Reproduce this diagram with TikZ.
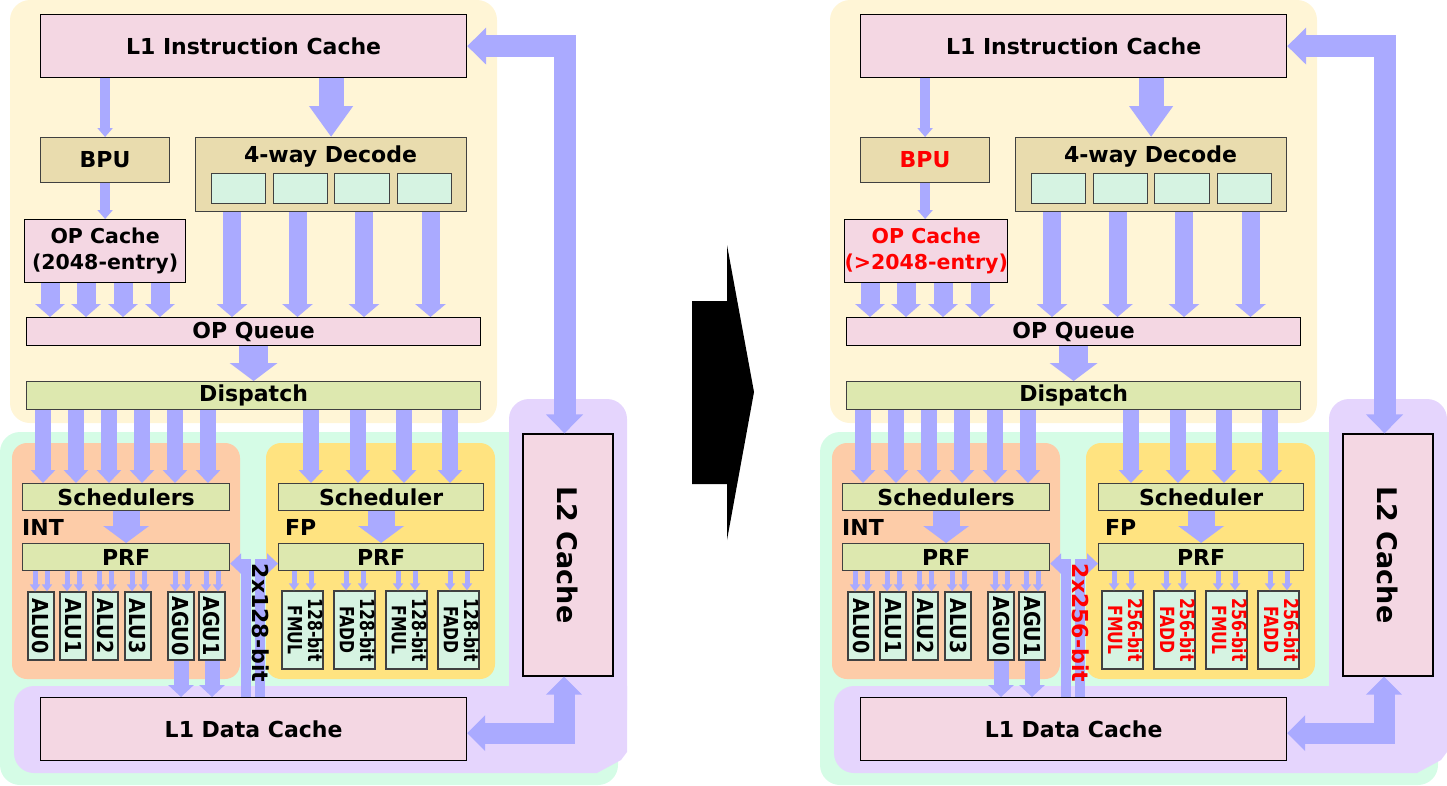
\documentclass[tikz,border=0pt]{standalone}
\usepackage{fontspec}
\usepackage{graphicx}
\setmainfont{DejaVu Sans}
\usetikzlibrary{arrows.meta,calc}
\definecolor{ablue}{HTML}{AAAAFF}
\definecolor{bpink}{HTML}{F4D7E3}
\definecolor{btan}{HTML}{E9DCAE}
\definecolor{blime}{HTML}{DDE8AF}
\definecolor{bmint}{HTML}{D6F3E2}
\definecolor{bgcream}{HTML}{FFF5D6}
\definecolor{bgmint}{HTML}{D5FCE6}
\definecolor{bgpurple}{HTML}{E5D5FD}
\definecolor{bgpeach}{HTML}{FDCCA8}
\definecolor{bgyellow}{HTML}{FFE380}
\tikzset{
  box/.style={draw=black!75, line width=1.2pt, inner sep=0pt, align=center,
    font=\fontsize{22}{26}\selectfont\bfseries},
  lbl/.style={inner sep=0pt, font=\fontsize{22}{26}\selectfont\bfseries},
  alub/.style={font=\fontsize{22}{26}\selectfont\bfseries},
  fpub/.style={font=\fontsize{19.5}{20}\selectfont\bfseries},
  fat/.style n args={3}{draw=ablue, line width=#1, line cap=butt, line join=miter,
    arrows={-Triangle[width=#2,length=#3]}},
  fatb/.style n args={3}{draw=ablue, line width=#1, line cap=butt, line join=miter,
    arrows={Triangle[width=#2,length=#3]-Triangle[width=#2,length=#3]}},
}
\newcommand\bx[7]{\node[box,#2,anchor=north west,minimum width={#5-#3},minimum height={#6-#4}] (#1) at (#3,#4) {#7};}
\newcommand\rbx[7]{\node[box,#2,rotate=-90,minimum width={#6-#4},minimum height={#5-#3}] (#1) at ({(#3+#5)/2},{(#4+#6)/2}) {#7};}
\newcommand\fpt[3]{\scalebox{0.8}[1]{\begin{tabular}{@{}c@{}}#1\\#2\end{tabular}}}
\newcommand\cpu[6]{%
  % backgrounds
  \fill[bgcream,rounded corners=20pt] (10,0) rectangle (497,423);
  \fill[bgmint,rounded corners=20pt] (0,432) rectangle (618,785);
  \fill[bgpurple,rounded corners=20pt] (509,399) rectangle (627,730);
  \fill[bgpurple,rounded corners=20pt] (14,686) rectangle (570,773);
  \fill[bgpurple] (540,686) -- (627,686) -- (627,752) -- (621,760) -- (597,773) -- (540,773) -- cycle;
  \fill[bgpeach,rounded corners=15pt] (12,443) rectangle (240,679);
  \fill[bgyellow,rounded corners=15pt] (266,443) rectangle (495,679);
  % boxes
  \bx{#1l1i}{fill=bpink,draw=black}{40}{14}{466}{77}{L1 Instruction Cache}
  \bx{#1bpu}{fill=btan,text=#2}{40}{137}{169}{182}{BPU}
  \bx{#1dec}{fill=btan}{195}{137}{466}{211}{}
  \node[lbl,anchor=base] (#1dect) at (330.5,162) {4-way Decode};
  \bx{#1da}{fill=bmint}{211}{173}{265}{203}{}
  \bx{#1db}{fill=bmint}{273}{173}{327}{203}{}
  \bx{#1dc}{fill=bmint}{334}{173}{389}{203}{}
  \bx{#1dd}{fill=bmint}{397}{173}{451}{203}{}
  \bx{#1opc}{fill=bpink,draw=black,text=#2,font=\fontsize{20.5}{26}\selectfont\bfseries}{24}{219}{185}{282}{OP Cache\\#3}
  \bx{#1opq}{fill=bpink,draw=black}{26}{317}{480}{345}{OP Queue}
  \bx{#1disp}{fill=blime}{26}{381}{480}{409}{Dispatch}
  \bx{#1isch}{fill=blime}{22}{483}{229}{510}{Schedulers}
  \bx{#1iprf}{fill=blime}{22}{543}{229}{570}{PRF}
  \bx{#1fsch}{fill=blime}{278}{483}{483}{510}{Scheduler}
  \bx{#1fprf}{fill=blime}{278}{543}{483}{570}{PRF}
  \node[lbl,anchor=base west] (#1int) at (22,535) {INT};
  \node[lbl,anchor=base west] (#1fp) at (285,535) {FP};
  \rbx{#1alu0}{fill=bmint,alub}{28}{592}{54}{660}{\scalebox{0.87}[1]{ALU0}}
  \rbx{#1alu1}{fill=bmint,alub}{60}{592}{86}{660}{\scalebox{0.87}[1]{ALU1}}
  \rbx{#1alu2}{fill=bmint,alub}{93}{592}{118}{660}{\scalebox{0.87}[1]{ALU2}}
  \rbx{#1alu3}{fill=bmint,alub}{125}{592}{151}{660}{\scalebox{0.87}[1]{ALU3}}
  \rbx{#1agu0}{fill=bmint,alub}{168}{592}{194}{660}{\scalebox{0.87}[1]{AGU0}}
  \rbx{#1agu1}{fill=bmint,alub}{199}{592}{225}{660}{\scalebox{0.87}[1]{AGU1}}
  \rbx{#1fua}{fill=bmint,fpub,text=#5}{282}{591}{323}{669}{\fpt{#4}{FMUL}{}}
  \rbx{#1fub}{fill=bmint,fpub,text=#5}{334}{591}{375}{669}{\fpt{#4}{FADD}{}}
  \rbx{#1fuc}{fill=bmint,fpub,text=#5}{386}{591}{427}{669}{\fpt{#4}{FMUL}{}}
  \rbx{#1fud}{fill=bmint,fpub,text=#5}{438}{591}{479}{669}{\fpt{#4}{FADD}{}}
  \rbx{#1l2}{fill=bpink,draw=black,font=\fontsize{27}{30}\selectfont\bfseries}{523}{434}{613}{676}{L2 Cache}
  \bx{#1l1d}{fill=bpink,draw=black}{40}{697}{466}{760}{L1 Data Cache}
  % arrows
  \draw[fat={10pt}{15pt}{9pt}] (#1l1i.south -| #1bpu.north) -- (#1bpu.north);
  \draw[fat={25pt}{42pt}{31pt}] (#1l1i.south -| #1dec.north) -- (#1dec.north);
  \draw[fat={10pt}{15pt}{9pt}] (#1bpu.south) -- (#1bpu.south |- #1opc.north);
  \foreach \dx in {26,62,99,136}
    \draw[fat={19pt}{29pt}{13pt}] ($(#1opc.south west)+(\dx,0)$) -- ($(#1opq.north west)+(\dx-2,0)$);
  \foreach \dx in {37,102.5,169,235.5}
    \draw[fat={18pt}{30pt}{13pt}] ($(#1dec.south west)+(\dx,0)$) -- ($(#1opq.north west)+(\dx+169,0)$);
  \draw[fat={29pt}{47pt}{18pt}] (#1opq.south) -- (#1disp.north);
  \foreach \dx in {17,50,83,116,149,182}
    \draw[fat={16pt}{24pt}{13pt}] ($(#1disp.south west)+(\dx,0)$) -- ($(#1isch.north west)+(\dx+4,0)$);
  \foreach \dx in {285,332,378,424}
    \draw[fat={16pt}{24pt}{13pt}] ($(#1disp.south west)+(\dx,0)$) -- ($(#1fsch.north west)+(\dx-252,0)$);
  \draw[fat={27pt}{45pt}{17pt}] (#1isch.south) -- (#1iprf.north);
  \draw[fat={27pt}{45pt}{17pt}] (#1fsch.south) -- (#1fprf.north);
  \foreach \u in {alu0,alu1,alu2,alu3,agu0,agu1}
    \foreach \s in {-6,6}
      \draw[fat={5pt}{10pt}{7pt}] ($(#1\u.west |- #1iprf.south)+(\s,0)$) -- ($(#1\u.west)+(\s,0)$);
  \foreach \u in {fua,fub,fuc,fud}
    \foreach \s in {-8.5,8.5}
      \draw[fat={5pt}{10pt}{7pt}] ($(#1\u.west |- #1fprf.south)+(\s,0)$) -- ($(#1\u.west)+(\s,0)$);
  \draw[fat={15pt}{25pt}{12pt}] (#1agu0.east) -- (#1agu0.east |- #1l1d.north);
  \draw[fat={15pt}{25pt}{12pt}] (#1agu1.east) -- (#1agu1.east |- #1l1d.north);
  \draw[fat={10pt}{20pt}{11pt}] ($(#1l1d.north west)+(206,0)$) |- ($(#1iprf.east)+(0,6.5)$);
  \draw[fat={10pt}{20pt}{11pt}] ($(#1l1d.north west)+(220,0)$) |- ($(#1fprf.west)+(0,6.5)$);
  \node[lbl,rotate=-90,text=#5] (#1bus) at (261,623) {#6};
  \draw[fatb={22pt}{36pt}{19pt}] ([xshift=-3.5pt]#1l2.west) |- (#1l1i.east);
  \draw[fatb={21pt}{35pt}{18pt}] ($(#1l1d.east)+(0,4)$) -| ([xshift=-4pt]#1l2.east);
}
\begin{document}
\begin{tikzpicture}[x=1pt,y=-1pt]
\useasboundingbox (0,0) rectangle (1447,785);
\cpu{l}{black}{(2048-entry)}{128-bit}{black}{2x128-bit}
\begin{scope}[xshift=820pt]
\cpu{r}{red}{(>2048-entry)}{256-bit}{red}{2x256-bit}
\end{scope}
\fill[black] (692,301) -- (727,301) -- (727,245) -- (754,392) -- (727,540) -- (727,484) -- (692,484) -- cycle;
\end{tikzpicture}
\end{document}
